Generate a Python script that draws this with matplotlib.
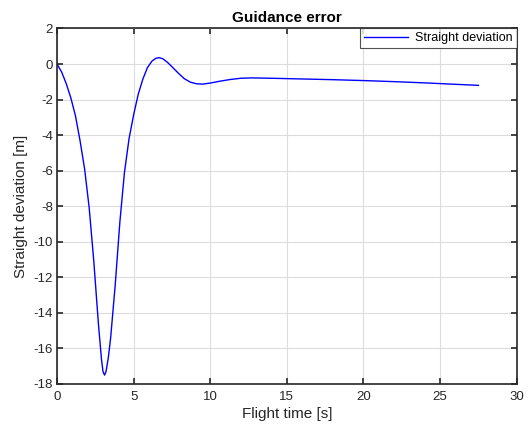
import matplotlib
matplotlib.use("Agg")
import matplotlib.pyplot as plt

plt.rcParams['font.family'] = ['Liberation Sans', 'DejaVu Sans']
plt.rcParams['axes.unicode_minus'] = False

time_s = [0.0, 0.3, 0.6, 0.9, 1.2, 1.5, 1.8, 2.1, 2.4, 2.7, 2.9, 3.0, 3.1, 3.2, 3.35,
          3.5, 3.8, 4.1, 4.4, 4.7, 5.0, 5.3, 5.6, 5.9, 6.2, 6.45, 6.65, 6.9, 7.2,
          7.5, 7.9, 8.3, 8.7, 9.1, 9.5, 10.0, 10.6, 11.3, 12.0, 12.7, 14.0, 16.0,
          18.0, 20.0, 22.0, 24.0, 26.0, 27.5]
deviation_m = [0.0, -0.45, -1.1, -1.9, -2.9, -4.3, -5.9, -8.1, -11.1, -14.6, -16.6,
               -17.3, -17.5, -17.3, -16.5, -15.4, -12.4, -8.9, -6.1, -4.2, -2.85, -1.7,
               -0.85, -0.2, 0.17, 0.32, 0.36, 0.3, 0.1, -0.15, -0.5, -0.82, -1.02,
               -1.11, -1.13, -1.07, -0.97, -0.87, -0.8, -0.78, -0.8, -0.84, -0.88,
               -0.93, -0.99, -1.06, -1.14, -1.2]

x_ticks = [0, 5, 10, 15, 20, 25, 30]
y_ticks = [-18, -16, -14, -12, -10, -8, -6, -4, -2, 0, 2]

fig = plt.figure(figsize=(5.29, 4.33), dpi=100)
ax = fig.add_axes([0.1078, 0.1132, 0.869, 0.821])

ax.plot(time_s, deviation_m, color='#0000ff', lw=1.0, label='Straight deviation')

ax.set_xlim(0, 30)
ax.set_ylim(-18, 2)
ax.set_xticks(x_ticks)
ax.set_yticks(y_ticks)
ax.grid(True, color='#dcdcdc', lw=0.8)
ax.set_axisbelow(True)
ax.tick_params(direction='in', top=True, right=True, length=4, width=1.2,
               labelsize=9.5, colors='#262626')
ax.tick_params(axis='x', pad=5)
ax.tick_params(axis='y', pad=3)
for s in ax.spines.values():
    s.set_color('#262626')
    s.set_linewidth(1.2)

ax.set_xlabel('Flight time [s]', fontsize=11, color='#262626', labelpad=3)
ax.set_ylabel('Straight deviation [m]', fontsize=11, color='#262626', labelpad=4)
ax.set_title('Guidance error', fontsize=11, fontweight='bold', pad=5)

leg = ax.legend(loc='upper right', fontsize=9, frameon=True, fancybox=False,
                borderaxespad=0.0, handlelength=3.5, borderpad=0.3, handletextpad=0.6)
leg.get_frame().set_edgecolor('#262626')
leg.get_frame().set_linewidth(0.8)

fig.savefig('out.png', dpi=100)
